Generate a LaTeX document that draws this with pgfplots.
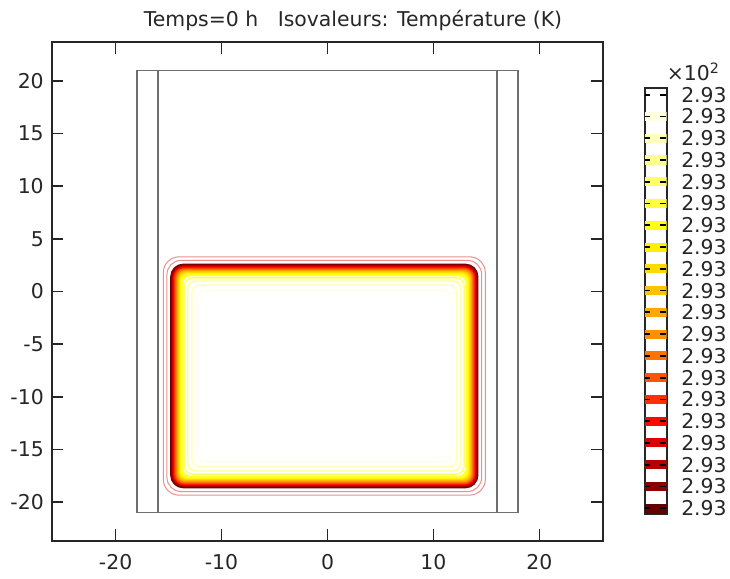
\documentclass[border=0pt]{standalone}
\usepackage{fontspec}
\setmainfont{DejaVu Sans}
\usepackage{pgfplots}
\pgfplotsset{compat=1.18}

% contour levels, lowest (1) to highest (20)
\definecolor{c1}{HTML}{640000}
\definecolor{c2}{HTML}{8C0000}
\definecolor{c3}{HTML}{B40000}
\definecolor{c4}{HTML}{DC0000}
\definecolor{c5}{HTML}{FF0800}
\definecolor{c6}{HTML}{FF3000}
\definecolor{c7}{HTML}{FF5400}
\definecolor{c8}{HTML}{FF7400}
\definecolor{c9}{HTML}{FF9000}
\definecolor{c10}{HTML}{FFA800}
\definecolor{c11}{HTML}{FFC200}
\definecolor{c12}{HTML}{FFDA00}
\definecolor{c13}{HTML}{FFF000}
\definecolor{c14}{HTML}{FFFF10}
\definecolor{c15}{HTML}{FFFF40}
\definecolor{c16}{HTML}{FFFF68}
\definecolor{c17}{HTML}{FFFF90}
\definecolor{c18}{HTML}{FFFFB8}
\definecolor{c19}{HTML}{FFFFE0}
\definecolor{pk}{HTML}{E89090}
\definecolor{geom}{HTML}{6E6E6E}

\newcommand{\lab}{\fontsize{10.2}{12}\selectfont}

\begin{document}
\begin{tikzpicture}
\begin{axis}[
  at={(0pt,0pt)}, anchor=south west,
  scale only axis, width=275.5pt, height=249.5pt,
  xmin=-26, xmax=26, ymin=-23.7, ymax=23.7,
  xtick={-20,-10,0,10,20}, xticklabels={-20,-10,0,10,20},
  ytick={-20,-15,...,20}, yticklabels={-20,-15,-10,-5,0,5,10,15,20},
  tick align=inside, major tick length=5.75pt,
  tick style={black!85, line width=0.8pt},
  axis line style={black!85, line width=1pt},
  ticklabel style={font=\lab, text=black!85},
  xticklabel style={yshift=-3.1pt},
  yticklabel style={xshift=-0.6pt},
  clip=false,
]
% geometry
\addplot[geom, line width=0.75pt] coordinates {(-18,-21) (18,-21) (18,21) (-18,21) (-18,-21)};
\addplot[geom, line width=0.75pt] coordinates {(-16,-21) (-16,21)};
\addplot[geom, line width=0.75pt] coordinates {(16,-21) (16,21)};

% faint outer isolines
\addplot[pk, line width=0.5pt, rounded corners=8pt] coordinates {(-0.3,-19.35) (14.9,-19.35) (14.9,3.3) (-15.5,3.3) (-15.5,-19.35) (-0.3,-19.35)};
\addplot[pk, line width=0.5pt, rounded corners=7pt] coordinates {(-0.3,-19.0) (14.55,-19.0) (14.55,2.95) (-15.15,2.95) (-15.15,-19.0) (-0.3,-19.0)};

% isolines
\addplot[c1, line width=1pt, rounded corners=6pt] coordinates {(-0.3,-18.6) (14.15,-18.6) (14.15,2.55) (-14.75,2.55) (-14.75,-18.6) (-0.3,-18.6)};
\addplot[c2, line width=1pt, rounded corners=5.7pt] coordinates {(-0.3,-18.53) (14.08,-18.53) (14.08,2.48) (-14.68,2.48) (-14.68,-18.53) (-0.3,-18.53)};
\addplot[c3, line width=1pt, rounded corners=5.4pt] coordinates {(-0.3,-18.45) (14.0,-18.45) (14.0,2.4) (-14.6,2.4) (-14.6,-18.45) (-0.3,-18.45)};
\addplot[c4, line width=1pt, rounded corners=5.1pt] coordinates {(-0.3,-18.37) (13.92,-18.37) (13.92,2.32) (-14.52,2.32) (-14.52,-18.37) (-0.3,-18.37)};
\addplot[c5, line width=1pt, rounded corners=4.8pt] coordinates {(-0.3,-18.3) (13.85,-18.3) (13.85,2.25) (-14.45,2.25) (-14.45,-18.3) (-0.3,-18.3)};
\addplot[c6, line width=1pt, rounded corners=4.5pt] coordinates {(-0.3,-18.23) (13.78,-18.23) (13.78,2.18) (-14.38,2.18) (-14.38,-18.23) (-0.3,-18.23)};
\addplot[c7, line width=1pt, rounded corners=4pt] coordinates {(-0.3,-18.15) (13.7,-18.15) (13.7,2.1) (-14.3,2.1) (-14.3,-18.15) (-0.3,-18.15)};
\addplot[c8, line width=1pt, rounded corners=3.8pt] coordinates {(-0.3,-18.08) (13.63,-18.08) (13.63,2.03) (-14.23,2.03) (-14.23,-18.08) (-0.3,-18.08)};
\addplot[c9, line width=1pt, rounded corners=3.6pt] coordinates {(-0.3,-18.01) (13.56,-18.01) (13.56,1.96) (-14.16,1.96) (-14.16,-18.01) (-0.3,-18.01)};
\addplot[c10, line width=1pt, rounded corners=3.5pt] coordinates {(-0.3,-17.95) (13.5,-17.95) (13.5,1.9) (-14.1,1.9) (-14.1,-17.95) (-0.3,-17.95)};
\addplot[c11, line width=1pt, rounded corners=3.5pt] coordinates {(-0.3,-17.88) (13.43,-17.88) (13.43,1.83) (-14.03,1.83) (-14.03,-17.88) (-0.3,-17.88)};
\addplot[c12, line width=1pt, rounded corners=3.5pt] coordinates {(-0.3,-17.81) (13.36,-17.81) (13.36,1.76) (-13.96,1.76) (-13.96,-17.81) (-0.3,-17.81)};
\addplot[c13, line width=1pt, rounded corners=3.5pt] coordinates {(-0.3,-17.73) (13.28,-17.73) (13.28,1.68) (-13.88,1.68) (-13.88,-17.73) (-0.3,-17.73)};
\addplot[c14, line width=1pt, rounded corners=3.5pt] coordinates {(-0.3,-17.65) (13.2,-17.65) (13.2,1.6) (-13.8,1.6) (-13.8,-17.65) (-0.3,-17.65)};
\addplot[c15, line width=0.7pt, rounded corners=4pt] coordinates {(-0.3,-17.55) (13.1,-17.55) (13.1,1.5) (-13.7,1.5) (-13.7,-17.55) (-0.3,-17.55)};
\addplot[c16, line width=0.7pt, rounded corners=4pt] coordinates {(-0.3,-17.35) (12.9,-17.35) (12.9,1.3) (-13.5,1.3) (-13.5,-17.35) (-0.3,-17.35)};
\addplot[c17, line width=0.7pt, rounded corners=4pt] coordinates {(-0.3,-17.05) (12.6,-17.05) (12.6,1.0) (-13.2,1.0) (-13.2,-17.05) (-0.3,-17.05)};
\addplot[c18, line width=0.7pt, rounded corners=4pt] coordinates {(-0.3,-16.65) (12.2,-16.65) (12.2,0.6) (-12.8,0.6) (-12.8,-16.65) (-0.3,-16.65)};
\addplot[c19, line width=0.7pt, rounded corners=4pt] coordinates {(-0.3,-16.15) (11.7,-16.15) (11.7,0.1) (-12.3,0.1) (-12.3,-16.15) (-0.3,-16.15)};
\end{axis}

% colour legend
\begin{axis}[
  at={(296.25pt,13.35pt)}, anchor=south west,
  scale only axis, width=11pt, height=213.15pt,
  xmin=0, xmax=1, ymin=0.72, ymax=20.31,
  xtick=\empty, ytick={1,...,20},
  yticklabels={2.93,2.93,2.93,2.93,2.93,2.93,2.93,2.93,2.93,2.93,2.93,2.93,2.93,2.93,2.93,2.93,2.93,2.93,2.93,2.93},
  yticklabel pos=right, major tick length=0pt,
  axis line style={black!85, line width=1pt},
  yticklabel style={font=\lab, xshift=3.85pt, text=black!85},
]
\addplot[fill=c1, draw=none] coordinates {(0,0.72) (1,0.72) (1,1.21) (0,1.21)};
\addplot[fill=c2, draw=none] coordinates {(0,1.79) (1,1.79) (1,2.21) (0,2.21)};
\addplot[fill=c3, draw=none] coordinates {(0,2.79) (1,2.79) (1,3.21) (0,3.21)};
\addplot[fill=c4, draw=none] coordinates {(0,3.79) (1,3.79) (1,4.21) (0,4.21)};
\addplot[fill=c5, draw=none] coordinates {(0,4.79) (1,4.79) (1,5.21) (0,5.21)};
\addplot[fill=c6, draw=none] coordinates {(0,5.79) (1,5.79) (1,6.21) (0,6.21)};
\addplot[fill=c7, draw=none] coordinates {(0,6.79) (1,6.79) (1,7.21) (0,7.21)};
\addplot[fill=c8, draw=none] coordinates {(0,7.79) (1,7.79) (1,8.21) (0,8.21)};
\addplot[fill=c9, draw=none] coordinates {(0,8.79) (1,8.79) (1,9.21) (0,9.21)};
\addplot[fill=c10, draw=none] coordinates {(0,9.79) (1,9.79) (1,10.21) (0,10.21)};
\addplot[fill=c11, draw=none] coordinates {(0,10.79) (1,10.79) (1,11.21) (0,11.21)};
\addplot[fill=c12, draw=none] coordinates {(0,11.79) (1,11.79) (1,12.21) (0,12.21)};
\addplot[fill=c13, draw=none] coordinates {(0,12.79) (1,12.79) (1,13.21) (0,13.21)};
\addplot[fill=c14, draw=none] coordinates {(0,13.79) (1,13.79) (1,14.21) (0,14.21)};
\addplot[fill=c15, draw=none] coordinates {(0,14.79) (1,14.79) (1,15.21) (0,15.21)};
\addplot[fill=c16, draw=none] coordinates {(0,15.79) (1,15.79) (1,16.21) (0,16.21)};
\addplot[fill=c17, draw=none] coordinates {(0,16.79) (1,16.79) (1,17.21) (0,17.21)};
\addplot[fill=c18, draw=none] coordinates {(0,17.79) (1,17.79) (1,18.21) (0,18.21)};
\addplot[fill=c19, draw=none] coordinates {(0,18.79) (1,18.79) (1,19.21) (0,19.21)};
% level marks
\addplot[only marks, mark=-, mark size=1.3pt, mark options={black, line width=0.9pt}] coordinates {
  (0.13,1) (0.13,2) (0.13,3) (0.13,4) (0.13,5) (0.13,6) (0.13,7) (0.13,8) (0.13,9) (0.13,10)
  (0.13,11) (0.13,12) (0.13,13) (0.13,14) (0.13,15) (0.13,16) (0.13,17) (0.13,18) (0.13,19) (0.13,20)
  (0.84,1) (0.84,2) (0.84,3) (0.84,4) (0.84,5) (0.84,6) (0.84,7) (0.84,8) (0.84,9) (0.84,10)
  (0.84,11) (0.84,12) (0.84,13) (0.84,14) (0.84,15) (0.84,16) (0.84,17) (0.84,18) (0.84,19) (0.84,20)
};
\end{axis}

\node[font=\lab, text=black!85, anchor=base] at (150.5pt,257.25pt) {Temps=0 h~~~Isovaleurs: Température (K)};
\node[font=\lab, text=black!85, anchor=base west, inner sep=0pt] at (307.25pt,230.15pt) {×10\textsuperscript{2}};

\pgfresetboundingbox
\path (-26pt,-19pt) rectangle (339pt,270.5pt);
\end{tikzpicture}
\end{document}
